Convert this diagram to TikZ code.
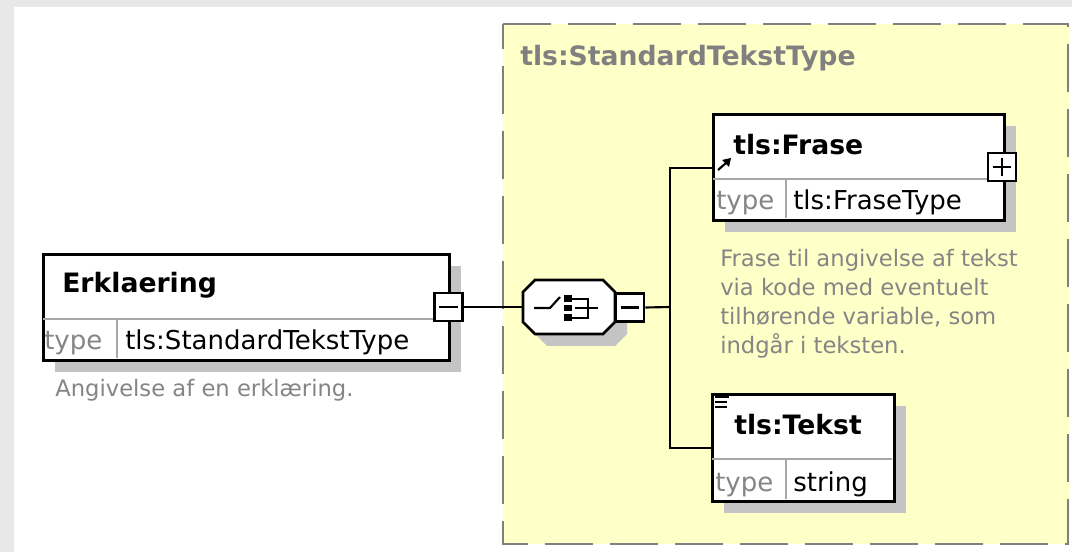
\documentclass[tikz,border=0pt]{standalone}
\usepackage{fontspec}
\setmainfont{DejaVu Sans}
\usetikzlibrary{shadows}
\definecolor{bggray}{HTML}{E8E8E8}
\definecolor{ylw}{HTML}{FFFFC8}
\definecolor{dashc}{HTML}{808080}
\definecolor{shc}{HTML}{C4C4C4}
\definecolor{divc}{HTML}{A8A8A8}
\definecolor{txtgray}{HTML}{858585}
\newcommand\ttlfont{\fontsize{20}{24}\selectfont\bfseries}
\newcommand\typfont{\fontsize{19.5}{23}\selectfont}
\newcommand\descfont{\fontsize{17}{21.75}\selectfont}
\begin{document}
\begin{tikzpicture}[x=0.75pt,y=-0.75pt,
  elem/.style={draw=black, line width=2pt, fill=white, rectangle, inner sep=0, anchor=north west,
    drop shadow={shadow xshift=9pt, shadow yshift=-9pt, fill=shc, opacity=1}},
  divider/.style={draw=divc, line width=1.5pt},
  tog/.style={draw=black, line width=2pt, fill=white, rectangle, minimum width=21pt, minimum height=21pt, inner sep=0},
  conn/.style={draw=black, line width=1.6pt},
  lbl/.style={inner sep=0, anchor=base west},
  ttl/.style={lbl, font=\ttlfont},
  typ/.style={lbl, font=\typfont, text=txtgray},
  val/.style={lbl, font=\typfont, text=black},
  desc/.style={inner sep=0, anchor=north west, align=left, font=\descfont, text=txtgray},
  icon/.style={draw=black, line width=1.6pt}
]
\useasboundingbox (0,0) rectangle (1072,552);
% backgrounds
\fill[bggray] (0,0) rectangle (1072,552);
\fill[white] (14,7) rectangle (1072,552);
\fill[ylw] (503,24) rectangle (1070,544);
\draw[dashc, line width=1.6pt, dash pattern=on 36pt off 12.75pt] (503,24) -- (1068,24) -- (1068,544) -- (503,544) -- cycle;
\node[lbl, font=\ttlfont, text=dashc] (ctitle) at (520,66) {tls:StandardTekstType};

% Erklaering element
\node[elem, minimum width=304.5pt, minimum height=79.5pt] (erk) at (42,253) {};
\draw[divider] (43,319) -- (447,319);
\draw[divider] (117,319) -- (117,358);
\node[ttl] (erkname) at (62,293) {Erklaering};
\node[typ] (erktype) at (44,350) {type};
\node[val] (erkval) at (125,350) {tls:StandardTekstType};
\node[lbl, font=\descfont, text=txtgray] (erkdesc) at (55,397) {Angivelse af en erklæring.};
\node[tog] (m1) at (448.5,307) {};
\draw[icon] ([xshift=-7pt]m1.center) -- ([xshift=7pt]m1.center);

% sequence compositor
\node[minimum width=69pt, minimum height=40.5pt, inner sep=0] (seq) at (569,307) {};
\fill[shc] (547,292) -- (615,292) -- (627,304) -- (627,334) -- (615,346) -- (547,346) -- (535,334) -- (535,304) -- cycle;
\draw[fill=white, line width=2pt] (535,280) -- (603,280) -- (615,292) -- (615,322) -- (603,334) -- (535,334) -- (523,322) -- (523,292) -- cycle;
\draw[icon] (534,308) -- (550,308) -- (560,297);
\fill (564,295.5) rectangle (572,302);
\fill (564,305) rectangle (572,311.5);
\fill (564,314.5) rectangle (572,321);
\draw[icon] (572,299) -- (588,299) -- (588,318) -- (572,318);
\draw[icon] (575,308) -- (598,308);
\node[tog] (m2) at (630,307.5) {};
\draw[icon] ([xshift=-7pt]m2.center) -- ([xshift=7pt]m2.center);
\coordinate (j) at (670,307);

% Frase element
\node[elem, minimum width=218.25pt, minimum height=79.5pt] (frase) at (712,113) {};
\draw[divider] (713,179) -- (1002,179);
\draw[divider] (786,179) -- (786,218);
\node[ttl] (frasename) at (733,155) {tls:Frase};
\node[typ] (frasetype) at (716,210) {type};
\node[val] (fraseval) at (793,210) {tls:FraseType};
\draw[line width=1.6pt] (718,170) -- (726,163);
\fill (731,158) -- (722,160) -- (729,167) -- cycle;
\node[tog] (p1) at (1002,167) {};
\draw[icon] ([xshift=-7pt]p1.center) -- ([xshift=7pt]p1.center);
\draw[icon] ([yshift=-7pt]p1.center) -- ([yshift=7pt]p1.center);
\node[desc] (frasedesc) at (720,249) {Frase til angivelse af tekst\\via kode med eventuelt\\tilhørende variable, som\\indgår i teksten.};

% Tekst element
\node[elem, minimum width=136.5pt, minimum height=80.25pt] (tekst) at (711,393) {};
\draw[divider] (712,459) -- (892,459);
\draw[divider] (786,459) -- (786,499);
\node[ttl] (tekstname) at (734,435) {tls:Tekst};
\node[typ] (teksttype) at (715,491) {type};
\node[val] (tekstval) at (793,491) {string};
\draw[line width=1.2pt] (715,397) -- (729,397);
\draw[line width=1.2pt] (715,402) -- (727,402);
\draw[line width=1.2pt] (715,407) -- (727,407);

% connectors
\draw[conn] (m1.east) -- (seq.west);
\draw[conn] (seq.east) -- (m2.west);
\draw[conn] (m2.east) -- (j);
\draw[conn] ([yshift=-0.75pt]frase.west) -| (j) |- (tekst.west);
\end{tikzpicture}
\end{document}
